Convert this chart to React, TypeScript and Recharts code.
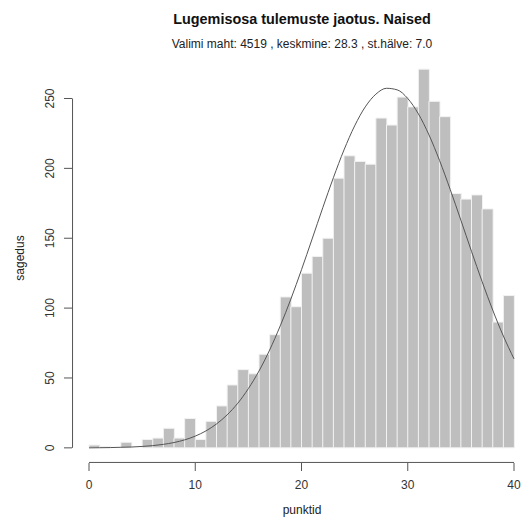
import { Bar, ComposedChart, Line, ReferenceLine, XAxis, YAxis } from 'recharts'

// histogram bins [x, x+1), counts
const binStart = [
  0, 1, 2, 3, 4, 5, 6, 7, 8, 9, 10, 11, 12, 13, 14, 15, 16, 17, 18, 19,
  20, 21, 22, 23, 24, 25, 26, 27, 28, 29, 30, 31, 32, 33, 34, 35, 36, 37, 38, 39,
]
const counts = [
  2, 1, 0, 4, 0, 6, 7, 14, 7, 21, 6, 19, 30, 45, 56, 53, 67, 81, 108, 101,
  125, 137, 150, 193, 209, 205, 203, 236, 231, 251, 244, 271, 248, 237, 182, 178, 181, 171, 90, 109,
]

// fitted normal curve, sampled at whole points
const curveX = [
  0, 1, 2, 3, 4, 5, 6, 7, 8, 9, 10, 11, 12, 13, 14, 15, 16, 17, 18, 19, 20,
  21, 22, 23, 24, 25, 26, 27, 28, 29, 30, 31, 32, 33, 34, 35, 36, 37, 38, 39, 40,
]
const curveY = [
  0, 0.1, 0.2, 0.4, 0.6, 1, 1.6, 2.5, 3.8, 5.7, 8.4, 12.1, 17.1, 23.6, 31.9, 42.4, 55, 70, 87.3, 106.5, 127.5,
  149.5, 171.8, 193.3, 213.2, 230.4, 244, 253.1, 257.3, 256.2, 250, 239, 223.9, 205.5, 184.8, 162.9, 140.6, 118.9, 98.5, 80, 63.7,
]

const xTicks = [0, 10, 20, 30, 40]
const yTicks = [0, 50, 100, 150, 200, 250]

const rows = curveX.map((x, i) => {
  const b = binStart.indexOf(x)
  return { x, count: b >= 0 ? counts[b] : null, curve: curveY[i] }
})

const FONT = '"Liberation Sans", Arial, Helvetica, sans-serif'
const X_DOMAIN: [number, number] = [-1.6, 41.6]
// bars sit on an axis shifted half a bin so each one spans [x, x+1]
const BIN_DOMAIN: [number, number] = [X_DOMAIN[0] - 0.5, X_DOMAIN[1] - 0.5]
const Y_DOMAIN: [number, number] = [-10.84, 281.84]
const AXIS = '#555'
// R draws the axis lines only over the tick range
const X_AXIS_Y = Y_DOMAIN[0] + 0.4
const Y_AXIS_X = X_DOMAIN[0] + 0.05

function YTick({ x, y, payload }: any) {
  return (
    <text
      x={x}
      y={y}
      transform={`rotate(-90 ${x} ${y})`}
      textAnchor="middle"
      fontSize={12}
      fill="#333"
      fontFamily={FONT}
    >
      {payload.value}
    </text>
  )
}

export default function App() {
  return (
    <div
      style={{
        position: 'absolute',
        left: 0,
        top: 0,
        width: 523,
        height: 526,
        overflow: 'hidden',
        background: '#fff',
        fontFamily: FONT,
      }}
    >
      <div
        style={{
          position: 'absolute',
          left: 0,
          width: 604,
          top: 11,
          textAlign: 'center',
          fontWeight: 'bold',
          fontSize: 14.4,
          color: '#111',
        }}
      >
        Lugemisosa tulemuste jaotus. Naised
      </div>
      <div
        style={{
          position: 'absolute',
          left: 0,
          width: 604,
          top: 37,
          textAlign: 'center',
          fontSize: 12,
          color: '#222',
        }}
      >
        Valimi maht: 4519 , keskmine: 28.3 , st.hälve: 7.0
      </div>
      <div
        style={{
          position: 'absolute',
          left: 0,
          width: 604,
          top: 503,
          textAlign: 'center',
          fontSize: 12,
          color: '#222',
        }}
      >
        punktid
      </div>
      <div
        style={{
          position: 'absolute',
          left: 20,
          top: 258,
          transform: 'translate(-50%, -50%) rotate(-90deg)',
          fontSize: 12,
          color: '#222',
          whiteSpace: 'nowrap',
        }}
      >
        sagedus
      </div>
      <ComposedChart
        width={540}
        height={526}
        data={rows}
        barCategoryGap={0}
        barGap={0}
        margin={{ top: 54, right: 9, bottom: 0, left: 0 }}
        style={{ position: 'absolute', left: 0, top: 0, fontFamily: FONT }}
      >
        <XAxis
          xAxisId="bins"
          orientation="top"
          type="number"
          dataKey="x"
          domain={BIN_DOMAIN}
          ticks={binStart}
          height={0}
          hide
        />
        <XAxis
          xAxisId="main"
          type="number"
          dataKey="x"
          domain={X_DOMAIN}
          ticks={xTicks}
          height={63}
          axisLine={false}
          tickSize={8}
          tickMargin={9}
          tickLine={{ stroke: AXIS }}
          tick={{ fill: '#333', fontSize: 12 }}
        />
        <YAxis
          type="number"
          domain={Y_DOMAIN}
          ticks={yTicks}
          width={72}
          axisLine={false}
          tickSize={8}
          tickMargin={10}
          tickLine={{ stroke: AXIS }}
          tick={<YTick />}
        />
        <Bar
          xAxisId="bins"
          dataKey="count"
          fill="#bebebe"
          stroke="#f2f2f2"
          strokeWidth={1}
          isAnimationActive={false}
        />
        <Line
          xAxisId="main"
          dataKey="curve"
          type="monotone"
          stroke="#555"
          strokeWidth={1}
          dot={false}
          activeDot={false}
          isAnimationActive={false}
        />
        <ReferenceLine
          xAxisId="main"
          segment={[
            { x: xTicks[xTicks.length - 1], y: X_AXIS_Y },
            { x: xTicks[0] + 0.0001, y: X_AXIS_Y },
          ]}
          stroke={AXIS}
          strokeWidth={1}
          ifOverflow="visible"
        />
        <ReferenceLine
          xAxisId="main"
          segment={[
            { x: Y_AXIS_X, y: yTicks[0] },
            { x: Y_AXIS_X, y: yTicks[yTicks.length - 1] },
          ]}
          stroke={AXIS}
          ifOverflow="visible"
        />
      </ComposedChart>
    </div>
  )
}
